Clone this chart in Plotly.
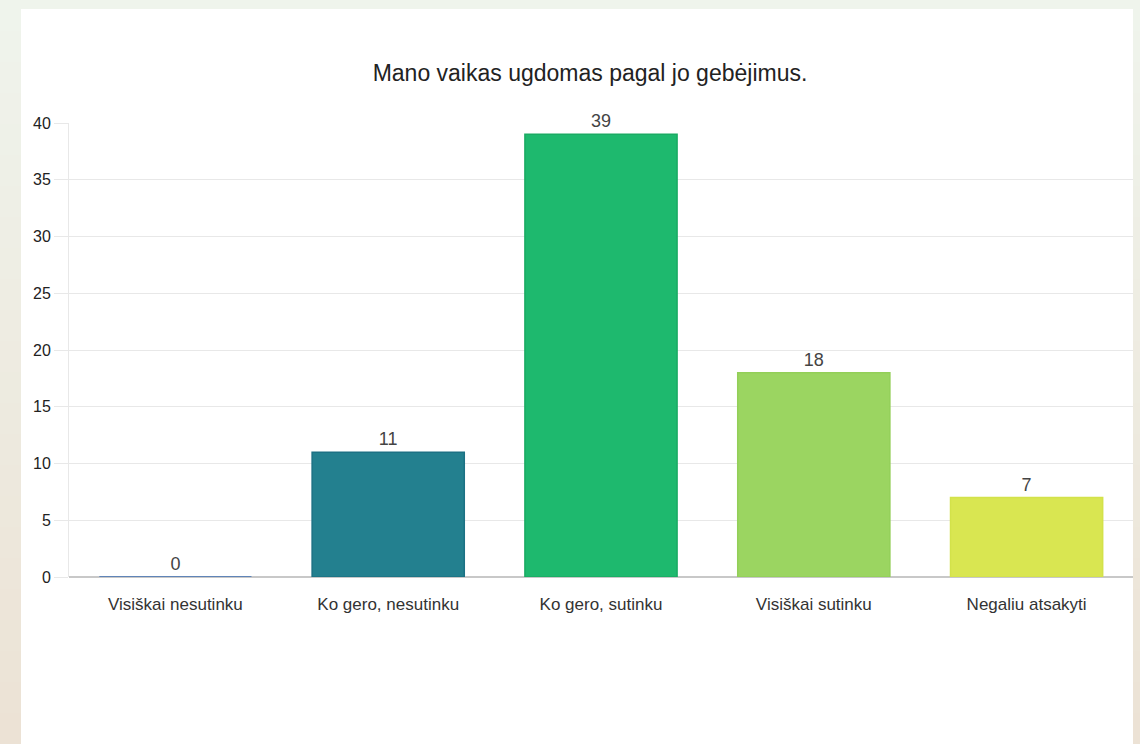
import plotly.graph_objects as go

# Survey answers and counts
categories = ["Visiškai nesutinku", "Ko gero, nesutinku", "Ko gero, sutinku",
              "Visiškai sutinku", "Negaliu atsakyti"]
counts = [0, 11, 39, 18, 7]
bar_colors = ["#3d6eb3", "#23808f", "#1eb96e", "#9bd561", "#d9e651"]
edge_colors = ["#3d6eb3", "#1c7184", "#1aab63", "#93cf58", "#d3e24a"]
y_ticks = [0, 5, 10, 15, 20, 25, 30, 35, 40]
title_text = "Mano vaikas ugdomas pagal jo gebėjimus."

FONT = "Liberation Sans, Arial, sans-serif"
W, H = 1140, 744
L, R, T, B = 69, 7, 123, 167
plot_w = W - L - R
plot_h = H - T - B


def px_to_paper_x(px):
    return (px - L) / plot_w


def px_to_paper_y(py):
    return (H - B - py) / plot_h


fig = go.Figure()
fig.add_trace(go.Bar(
    x=categories,
    y=counts,
    marker=dict(color=bar_colors, line=dict(color=edge_colors, width=1.5)),
    text=[str(v) for v in counts],
    textposition="outside",
    textfont=dict(family=FONT, size=18, color="#444444"),
    cliponaxis=False,
    width=0.715,
    hoverinfo="x+y",
))

# Page backdrop: soft vertical gradient behind a white card
shapes = []
top_rgb = (239, 244, 237)
bot_rgb = (236, 226, 212)
bands = 24
for i in range(bands):
    f = (i + 0.5) / bands
    c = tuple(round(top_rgb[k] + (bot_rgb[k] - top_rgb[k]) * f) for k in range(3))
    y_top = H * i / bands
    y_bot = H * (i + 1) / bands + 1
    shapes.append(dict(
        type="rect", xref="paper", yref="paper", layer="below",
        x0=px_to_paper_x(0), x1=px_to_paper_x(W),
        y0=px_to_paper_y(y_bot), y1=px_to_paper_y(y_top),
        fillcolor="rgb(%d,%d,%d)" % c, line=dict(width=0),
    ))
shapes.append(dict(
    type="rect", xref="paper", yref="paper", layer="below",
    x0=px_to_paper_x(21), x1=px_to_paper_x(1133),
    y0=px_to_paper_y(H + 2), y1=px_to_paper_y(9),
    fillcolor="white", line=dict(width=0),
))

fig.update_layout(
    width=W, height=H,
    margin=dict(l=L, r=R, t=T, b=B, pad=0),
    paper_bgcolor="#eef2ea",
    plot_bgcolor="rgba(0,0,0,0)",
    shapes=shapes,
    showlegend=False,
    bargap=0.285,
    title=dict(
        text=title_text, x=590 / W, xref="container",
        y=1 - 73 / H, yanchor="middle", xanchor="center",
        font=dict(family=FONT, size=23, color="#222222"),
    ),
    font=dict(family=FONT),
)

fig.update_xaxes(
    showgrid=False, showline=False, zeroline=False,
    ticks="outside", ticklen=12, tickcolor="rgba(0,0,0,0)",
    tickfont=dict(size=17, color="#333333"),
)
fig.update_yaxes(
    range=[0, 40], tickvals=y_ticks,
    showgrid=True, gridcolor="#e8e8e8", gridwidth=1,
    showline=True, linecolor="#e8e8e8", linewidth=1,
    zeroline=True, zerolinecolor="#c8c8c8", zerolinewidth=1.5,
    ticks="outside", ticklen=14, tickcolor="#e8e8e8",
    tickfont=dict(size=16, color="#222222"),
)

fig.write_html("out.html")
